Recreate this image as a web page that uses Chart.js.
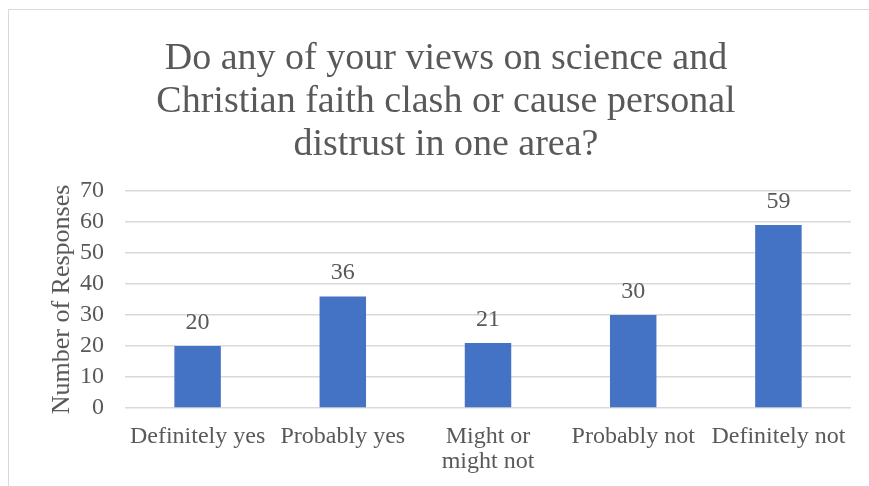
<!DOCTYPE html>
<html>
<head>
<meta charset="utf-8">
<script src="https://cdn.jsdelivr.net/npm/chart.js@4.4.0/dist/chart.umd.min.js"></script>
<style>
  html, body { margin: 0; padding: 0; background: #fff; overflow: hidden; }
  #frame { position: absolute; left: 8px; top: 9px; width: 900px; height: 520px; border: 1px solid #d9d9d9; }
  #wrap { position: absolute; left: 0; top: 0; width: 869px; height: 486px; }
</style>
</head>
<body>
<div id="frame"></div>
<div id="wrap"><canvas id="myChart" width="869" height="486"></canvas></div>
<script>
// respuestas de la encuesta
const answers = ['Definitely yes', 'Probably yes', ['Might or', 'might not'], 'Probably not', 'Definitely not'];
const responses = [20, 36, 21, 30, 59];
const yTicks = [0, 10, 20, 30, 40, 50, 60, 70];

const textColor = '#595959';
const serif = "'Liberation Serif', 'Times New Roman', serif";

// numeros encima de cada barra
const barLabels = {
    id: 'barLabels',
    afterDatasetsDraw(chart) {
        const ctx = chart.ctx;
        const meta = chart.getDatasetMeta(0);
        ctx.save();
        ctx.font = '24px ' + serif;
        ctx.fillStyle = textColor;
        ctx.textAlign = 'center';
        ctx.textBaseline = 'alphabetic';
        meta.data.forEach((bar, i) => {
            ctx.fillText(responses[i], bar.x, bar.y - 17);
        });
        ctx.restore();
    }
};

const ctx = document.getElementById('myChart');

new Chart(ctx, {
    type: 'bar',
    data: {
        labels: answers,
        datasets: [{
            data: responses,
            backgroundColor: '#4472C4',
            borderWidth: 0,
            barPercentage: 0.32,
            categoryPercentage: 1
        }]
    },
    options: {
        responsive: false,
        animation: false,
        layout: { padding: { left: 41, right: 18, top: 37, bottom: 0 } },
        plugins: {
            legend: { display: false },
            tooltip: { enabled: false },
            title: {
                display: true,
                text: ['Do any of your views on science and', 'Christian faith clash or cause personal', 'distrust in one area?'],
                color: textColor,
                font: { family: serif, size: 38, weight: 'normal', lineHeight: 1.14 },
                padding: { top: 0, bottom: 24 }
            }
        },
        scales: {
            x: {
                grid: { display: false },
                border: { display: false },
                ticks: {
                    color: textColor,
                    font: { family: serif, size: 24, lineHeight: 1.05 },
                    maxRotation: 0,
                    autoSkip: false,
                    padding: 8
                },
                afterFit(scale) { scale.height = 78; }
            },
            y: {
                min: 0,
                max: 70,
                afterBuildTicks(scale) { scale.ticks = yTicks.map(v => ({ value: v })); },
                grid: { color: '#d9d9d9', lineWidth: 1.5, drawTicks: false },
                border: { display: false },
                ticks: {
                    color: textColor,
                    font: { family: serif, size: 24 },
                    autoSkip: false,
                    padding: 21
                },
                title: {
                    display: true,
                    text: 'Number of Responses',
                    color: textColor,
                    font: { family: serif, size: 26, lineHeight: 1.2 },
                    padding: { top: 6, bottom: 0 }
                },
                afterFit(scale) { scale.width = 84; }
            }
        }
    },
    plugins: [barLabels]
});
</script>
</body>
</html>
